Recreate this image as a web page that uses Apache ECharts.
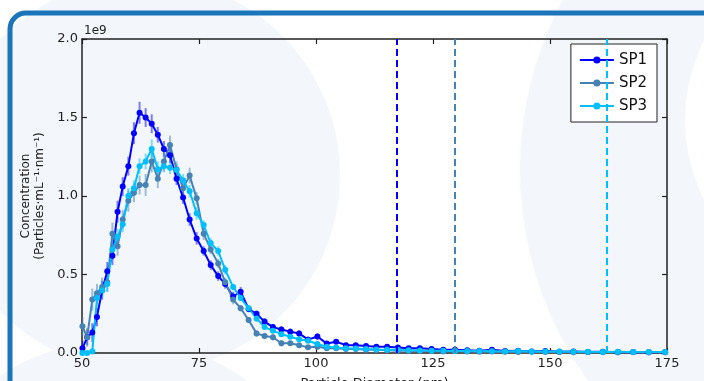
<!DOCTYPE html>
<html>
<head>
<meta charset="utf-8">
<script src="https://cdn.jsdelivr.net/npm/echarts@6/dist/echarts.min.js"></script>
<style>
  html, body { margin: 0; padding: 0; background: #fff; }
  #chart1 { width: 704px; height: 381px; }
</style>
</head>
<body>
<div id="chart1"></div>
<script>
// particle diameter bins (nm)
var diam = [50.1, 51.1, 52.2, 53.2, 54.3, 55.4, 56.5, 57.6, 58.7, 59.9,
    61.1, 62.3, 63.6, 64.9, 66.2, 67.5, 68.8, 70.2, 71.6, 73.0,
    74.5, 76.0, 77.5, 79.1, 80.6, 82.3, 83.9, 85.6, 87.3, 89.0,
    90.8, 92.6, 94.5, 96.4, 98.3, 100.3, 102.3, 104.3, 106.4, 108.5,
    110.7, 112.9, 115.2, 117.5, 119.8, 122.2, 124.7, 127.2, 129.7, 132.3,
    134.9, 137.6, 140.4, 143.2, 146.1, 149.0, 152.0, 155.0, 158.1, 161.3,
    164.5, 167.8, 171.1, 174.6];

// concentrations, in units of 1e9
var sp1 = [0.03, 0.10, 0.13, 0.23, 0.40, 0.52, 0.62, 0.90, 1.06, 1.19,
    1.40, 1.53, 1.50, 1.46, 1.39, 1.30, 1.26, 1.11, 0.99, 0.85,
    0.73, 0.65, 0.56, 0.49, 0.44, 0.36, 0.39, 0.28, 0.25, 0.20,
    0.165, 0.15, 0.136, 0.125, 0.085, 0.105, 0.06, 0.072, 0.05, 0.05,
    0.045, 0.04, 0.04, 0.035, 0.03, 0.03, 0.025, 0.02, 0.02, 0.018,
    0.015, 0.02, 0.012, 0.015, 0.01, 0.012, 0.008, 0.01, 0.006, 0.008,
    0.005, 0.006, 0.004, 0.004];
var sp2 = [0.17, 0.10, 0.34, 0.38, 0.42, 0.45, 0.76, 0.68, 0.85, 0.97,
    1.02, 1.07, 1.07, 1.22, 1.11, 1.22, 1.325, 1.17, 1.05, 1.13,
    0.985, 0.76, 0.66, 0.57, 0.45, 0.34, 0.285, 0.21, 0.125, 0.108,
    0.10, 0.062, 0.062, 0.05, 0.036, 0.04, 0.03, 0.03, 0.025, 0.025,
    0.02, 0.02, 0.018, 0.015, 0.015, 0.012, 0.012, 0.01, 0.012, 0.01,
    0.008, 0.01, 0.008, 0.007, 0.008, 0.006, 0.006, 0.005, 0.006, 0.005,
    0.004, 0.005, 0.004, 0.004];
var sp3 = [0.0, 0.0, 0.01, 0.35, 0.40, 0.44, 0.66, 0.74, 0.82, 1.0,
    1.05, 1.19, 1.22, 1.30, 1.17, 1.19, 1.18, 1.165, 1.10, 1.03,
    0.89, 0.815, 0.70, 0.65, 0.53, 0.42, 0.35, 0.285, 0.22, 0.165,
    0.142, 0.12, 0.104, 0.087, 0.078, 0.057, 0.04, 0.035, 0.03, 0.028,
    0.025, 0.022, 0.02, 0.02, 0.018, 0.016, 0.015, 0.014, 0.013, 0.012,
    0.012, 0.011, 0.01, 0.012, 0.01, 0.009, 0.01, 0.008, 0.008, 0.007,
    0.008, 0.006, 0.006, 0.006];

// error bar half widths (1e9)
var sp1Err = [0.05, 0.05, 0.06, 0.06, 0.06, 0.06, 0.06, 0.07, 0.06, 0.06,
    0.07, 0.07, 0.06, 0.06, 0.05, 0.05, 0.05, 0.04, 0.04, 0.04,
    0.04, 0.03, 0.03, 0.03, 0.03, 0.03, 0.03, 0.02, 0.02, 0.02,
    0.02, 0.02, 0.02, 0.02, 0.02, 0.02, 0.01, 0.01, 0.01, 0.01,
    0.01, 0.01, 0.01, 0.01, 0.01, 0.01, 0.01, 0.01, 0.01, 0.01,
    0.01, 0.01, 0.01, 0.01, 0.01, 0.01, 0.01, 0.01, 0.01, 0.01,
    0.01, 0.01, 0.01, 0.01];
var sp2Err = [0.06, 0.06, 0.07, 0.06, 0.06, 0.06, 0.07, 0.06, 0.06, 0.07,
    0.06, 0.06, 0.07, 0.07, 0.06, 0.06, 0.06, 0.05, 0.05, 0.05,
    0.04, 0.04, 0.03, 0.03, 0.03, 0.03, 0.02, 0.02, 0.02, 0.02,
    0.02, 0.02, 0.01, 0.01, 0.01, 0.01, 0.01, 0.01, 0.01, 0.01,
    0.01, 0.01, 0.01, 0.01, 0.01, 0.01, 0.01, 0.01, 0.01, 0.01,
    0.01, 0.01, 0.01, 0.01, 0.01, 0.01, 0.01, 0.01, 0.01, 0.01,
    0.01, 0.01, 0.01, 0.01];
var sp3Err = [0.0, 0.0, 0.02, 0.05, 0.05, 0.05, 0.06, 0.05, 0.05, 0.05,
    0.05, 0.05, 0.05, 0.06, 0.05, 0.04, 0.04, 0.04, 0.04, 0.04,
    0.04, 0.03, 0.03, 0.03, 0.03, 0.02, 0.02, 0.02, 0.02, 0.02,
    0.01, 0.01, 0.01, 0.01, 0.01, 0.01, 0.01, 0.01, 0.01, 0.01,
    0.01, 0.01, 0.01, 0.01, 0.01, 0.01, 0.01, 0.01, 0.01, 0.01,
    0.01, 0.01, 0.01, 0.01, 0.01, 0.01, 0.01, 0.01, 0.01, 0.01,
    0.01, 0.01, 0.01, 0.01];

var names = ['SP1', 'SP2', 'SP3'];
var colors = ['#0000ff', '#4682b4', '#00bfff'];
var meanLines = [117.3, 129.7, 162.2];
var xTicks = [50, 175, 25];
var yTicks = [0, 2, 0.5];

var values = [sp1, sp2, sp3];
var errs = [sp1Err, sp2Err, sp3Err];

var myChart = echarts.init(document.getElementById('chart1'));

function pairs(ys) {
    return diam.map(function (d, i) { return [d, ys[i]]; });
}

function errData(ys, es) {
    return diam.map(function (d, i) { return [d, ys[i] - es[i], ys[i] + es[i]]; });
}

function errRender(color) {
    return function (params, api) {
        var lo = api.coord([api.value(0), api.value(1)]);
        var hi = api.coord([api.value(0), api.value(2)]);
        return {
            type: 'line',
            shape: { x1: lo[0], y1: lo[1], x2: hi[0], y2: hi[1] },
            style: { stroke: color, lineWidth: 2, opacity: 0.5 }
        };
    };
}

var series = [];
names.forEach(function (n, k) {
    series.push({
        name: n + ' err',
        type: 'custom',
        renderItem: errRender(colors[k]),
        clip: true,
        encode: { x: 0, y: [1, 2] },
        data: errData(values[k], errs[k]),
        z: 1
    });
});
names.forEach(function (n, k) {
    series.push({
        name: n,
        type: 'line',
        data: pairs(values[k]),
        symbol: 'circle',
        symbolSize: 6,
        clip: true,
        itemStyle: { color: colors[k] },
        lineStyle: { color: colors[k], width: 2 },
        z: 3,
        markLine: {
            silent: true,
            symbol: 'none',
            label: { show: false },
            lineStyle: { color: colors[k], width: 2, type: [7, 4] },
            data: [{ xAxis: meanLines[k] }]
        }
    });
});

var axisCommon = {
    axisLine: { show: true, onZero: false, lineStyle: { color: '#222', width: 1.5 } },
    axisTick: { show: true, inside: true, length: 5, lineStyle: { color: '#222', width: 1.2 } },
    splitLine: { show: false }
};

option = {
    animation: false,
    textStyle: { fontFamily: 'DejaVu Sans' },
    graphic: [
        { type: 'circle', z: -10, shape: { cx: 143, cy: 175, r: 197 }, style: { fill: '#f3f7fc' } },
        { type: 'circle', z: -10, shape: { cx: 120, cy: 560, r: 220 }, style: { fill: '#f3f7fc' } },
        { type: 'circle', z: -10, shape: { cx: 880, cy: 170, r: 360 }, style: { fill: '#f3f7fc' } },
        { type: 'circle', z: -9, shape: { cx: 860, cy: 120, r: 175 }, style: { fill: '#ffffff' } },
        { type: 'rect', z: -5, shape: { x: 10, y: 13, width: 760, height: 420, r: 16 },
          style: { fill: 'none', stroke: '#1b75bb', lineWidth: 5 } },
        { type: 'text', left: 84, top: 25, style: { text: '1e9', fontSize: 12, fill: '#222', fontFamily: 'DejaVu Sans' } }
    ],
    legend: {
        data: names,
        orient: 'vertical',
        right: 47,
        top: 44,
        padding: [8, 10, 8, 8],
        itemGap: 7,
        itemWidth: 34,
        itemHeight: 9,
        backgroundColor: '#fff',
        borderColor: '#222',
        borderWidth: 1,
        borderRadius: 0,
        textStyle: { fontSize: 15, color: '#111', fontFamily: 'DejaVu Sans', lineHeight: 16 }
    },
    grid: { left: 82, right: 37, top: 39, bottom: 28, outerBoundsMode: 'none', containLabel: false },
    xAxis: [
        Object.assign({
            type: 'value', min: xTicks[0], max: xTicks[1], interval: xTicks[2],
            position: 'bottom',
            name: 'Particle Diameter (nm)', nameLocation: 'middle', nameGap: 24,
            nameTextStyle: { fontSize: 13, color: '#222' },
            axisLabel: { fontSize: 13, color: '#222', margin: 4 }
        }, axisCommon),
        Object.assign({
            type: 'value', min: xTicks[0], max: xTicks[1], interval: xTicks[2],
            position: 'top', axisLabel: { show: false }
        }, axisCommon)
    ],
    yAxis: [
        Object.assign({
            type: 'value', min: yTicks[0], max: yTicks[1], interval: yTicks[2],
            position: 'left',
            name: 'Concentration\n(Particles·mL⁻¹·nm⁻¹)', nameLocation: 'middle', nameGap: 24,
            nameTextStyle: { fontSize: 12, color: '#222', lineHeight: 14 },
            axisLabel: { fontSize: 13, color: '#222', margin: 4,
                formatter: function (v) { return v.toFixed(1); } }
        }, axisCommon),
        Object.assign({
            type: 'value', min: yTicks[0], max: yTicks[1], interval: yTicks[2],
            position: 'right', axisLabel: { show: false }
        }, axisCommon)
    ],
    series: series
};
myChart.setOption(option);
window.onresize = myChart.resize;
</script>
</body>
</html>
